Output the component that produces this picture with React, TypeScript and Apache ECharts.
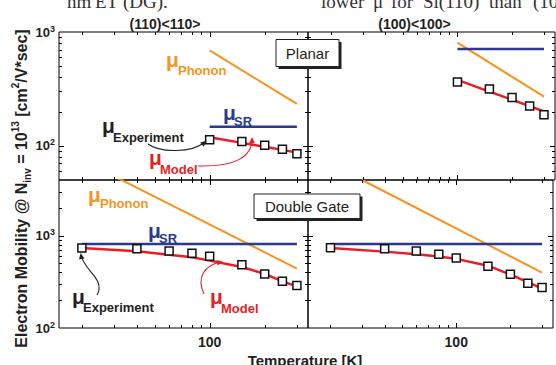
import { useEffect, useRef } from "react";
import * as echarts from "echarts";

const FONT = "'Liberation Sans', Arial, Helvetica, sans-serif";
const SERIF = "'Liberation Serif', 'Times New Roman', serif";
const ORANGE = "#F7931E";
const BLUE = "#2B3990";
const RED = "#ED1C24";
const INK = "#231F20";

// ---------- data ----------
const tempsPlanar = [100, 150, 200, 250, 300];
const tempsDG = [20, 40, 60, 80, 100, 150, 200, 250, 300];
const phononTempsPlanar = [100, 300];
const phononTempsDG = [30, 300];
const srTempsPlanar = [100, 300];
const srTempsDG = [20, 300];

// (110)<110> planar
const expPlanar110 = [113, 109, 101, 93, 85];
const modelPlanar110 = [119, 106, 98, 92, 87];
const phononPlanar110 = [690, 233];
const srPlanar110 = [147, 147];

// (100)<100> planar
const expPlanar100 = [364, 316, 265, 224, 187];
const modelPlanar100 = [379, 299, 254, 223, 200];
const phononPlanar100 = [806, 270];
const srPlanar100 = [710, 710];

// (110)<110> double gate
const expDG110 = [736, 723, 683, 643, 597, 485, 385, 320, 288];
const modelDG110 = [736, 676, 622, 582, 536, 458, 385, 320, 282];
const phononDG110 = [4400, 440];
const srDG110 = [812, 812];

// (100)<100> double gate
const expDG100 = [741, 723, 683, 628, 574, 466, 381, 305, 274];
const modelDG100 = [736, 671, 628, 593, 560, 473, 378, 313, 267];
const phononDG100 = [4000, 398];
const srDG100 = [812, 812];

// axes
const xRange = [15, 345];
const yRangePlanar = [50, 1000];
const yRangeDG = [100, 4000];
const xMinorTicks = [20, 30, 40, 50, 60, 70, 80, 90, 200, 300];
const xMajorTicks = [100];
const yMinorPlanar = [60, 70, 80, 90, 200, 300, 400, 500, 600, 700, 800, 900];
const yMajorPlanar = [100];
const yMinorDG = [200, 300, 400, 500, 600, 700, 800, 900, 2000, 3000];
const yMajorDG = [1000];
const xTickLabels = [100];
const yTickLabels = [100, 1000];

// running text of the page, cut off at the top edge
const pageTextLeft = ["nm", "ET", "(DG)."];
const pageTextRight = ["lower", "μ", "for", "Si(110)", "than", "(100)"];

const zip = (xs: number[], ys: number[]) => xs.map((x, i) => [x, ys[i]]);
const near = (v: number, list: number[]) =>
  list.some((t) => Math.abs(Math.log10(v) - Math.log10(t)) < 1e-4);

type Panel = {
  yRange: number[];
  temps: number[];
  exp: number[];
  model: number[];
  phT: number[];
  ph: number[];
  srT: number[];
  sr: number[];
  yMinor: number[];
  yMajor: number[];
};

const panels: Panel[] = [
  { yRange: yRangePlanar, temps: tempsPlanar, exp: expPlanar110, model: modelPlanar110, phT: phononTempsPlanar, ph: phononPlanar110, srT: srTempsPlanar, sr: srPlanar110, yMinor: yMinorPlanar, yMajor: yMajorPlanar },
  { yRange: yRangePlanar, temps: tempsPlanar, exp: expPlanar100, model: modelPlanar100, phT: phononTempsPlanar, ph: phononPlanar100, srT: srTempsPlanar, sr: srPlanar100, yMinor: yMinorPlanar, yMajor: yMajorPlanar },
  { yRange: yRangeDG, temps: tempsDG, exp: expDG110, model: modelDG110, phT: phononTempsDG, ph: phononDG110, srT: srTempsDG, sr: srDG110, yMinor: yMinorDG, yMajor: yMajorDG },
  { yRange: yRangeDG, temps: tempsDG, exp: expDG100, model: modelDG100, phT: phononTempsDG, ph: phononDG100, srT: srTempsDG, sr: srDG100, yMinor: yMinorDG, yMajor: yMajorDG },
];

const gridBoxes = [
  { left: 59, top: 32, width: 249, height: 148 },
  { left: 308, top: 32, width: 247, height: 148 },
  { left: 59, top: 180, width: 249, height: 148 },
  { left: 308, top: 180, width: 247, height: 148 },
];

const renderTick = (params: any, api: any) => {
  const cs = params.coordSys;
  const isY = api.value(2) === 1;
  const len = api.value(3) === 1 ? 5 : 3;
  const p = api.coord([api.value(0), api.value(1)]);
  const st = { stroke: "#000", lineWidth: 1 };
  if (!isY) {
    const x = Math.round(p[0]) + 0.5;
    const y0 = cs.y;
    const y1 = cs.y + cs.height;
    return {
      type: "group",
      children: [
        { type: "line", shape: { x1: x, y1: y1, x2: x, y2: y1 - len }, style: st },
        { type: "line", shape: { x1: x, y1: y0, x2: x, y2: y0 + len }, style: st },
      ],
    };
  }
  const y = Math.round(p[1]) + 0.5;
  const x0 = cs.x;
  const x1 = cs.x + cs.width;
  return {
    type: "group",
    children: [
      { type: "line", shape: { x1: x0, y1: y, x2: x0 + len, y2: y }, style: st },
      { type: "line", shape: { x1: x1, y1: y, x2: x1 - len, y2: y }, style: st },
    ],
  };
};

function tickData(p: Panel) {
  const d: number[][] = [];
  xMinorTicks.forEach((v) => d.push([v, p.yRange[0], 0, 0]));
  xMajorTicks.forEach((v) => d.push([v, p.yRange[0], 0, 1]));
  p.yMinor.forEach((v) => d.push([xRange[0], v, 1, 0]));
  p.yMajor.forEach((v) => d.push([xRange[0], v, 1, 1]));
  return d;
}

// ---------- annotation helpers ----------
const txt = (
  text: string,
  x: number,
  baseline: number,
  size: number,
  color: string,
  opts: any = {}
) => ({
  type: "text",
  x,
  y: baseline - 0.35 * size,
  z: 100,
  style: {
    text,
    fill: color,
    font: `${opts.weight ?? "bold"} ${size}px ${opts.family ?? FONT}`,
    align: opts.align ?? "left",
    textAlign: opts.align ?? "left",
    verticalAlign: "middle",
    textVerticalAlign: "middle",
  },
});

const muLabel = (
  mx: number,
  mBase: number,
  sub: string,
  sx: number,
  sBase: number,
  color: string
) => [txt("μ", mx, mBase, 21, color), txt(sub, sx, sBase, 13, color)];

const arrow = (
  p0: number[],
  c1: number[],
  c2: number[],
  p3: number[],
  color: string
) => {
  const dx = p3[0] - c2[0];
  const dy = p3[1] - c2[1];
  const d = Math.hypot(dx, dy);
  const ux = dx / d;
  const uy = dy / d;
  const len = 6;
  const half = 2.8;
  const tip = [p3[0] + ux * 2, p3[1] + uy * 2];
  const bx = tip[0] - ux * len;
  const by = tip[1] - uy * len;
  return [
    {
      type: "bezierCurve",
      z: 100,
      shape: { x1: p0[0], y1: p0[1], cpx1: c1[0], cpy1: c1[1], cpx2: c2[0], cpy2: c2[1], x2: p3[0], y2: p3[1] },
      style: { stroke: color, lineWidth: 1.1, fill: "none" },
    },
    {
      type: "polygon",
      z: 100,
      shape: { points: [tip, [bx - uy * half, by + ux * half], [bx + uy * half, by - ux * half]] },
      style: { fill: color },
    },
  ];
};

const box = (x: number, y: number, w: number, h: number, label: string) => [
  { type: "rect", z: 100, shape: { x: x + 2.5, y: y + 2.5, width: w, height: h }, style: { fill: "#222" } },
  { type: "rect", z: 101, shape: { x, y, width: w, height: h }, style: { fill: "#fff", stroke: "#222", lineWidth: 1 } },
  {
    type: "text",
    z: 102,
    x: x + w / 2,
    y: y + h / 2,
    style: {
      text: label,
      fill: INK,
      font: `normal 15px ${FONT}`,
      align: "center",
      textAlign: "center",
      verticalAlign: "middle",
      textVerticalAlign: "middle",
    },
  },
];

function buildOption() {
  const grid = gridBoxes.map((g) => ({
    ...g,
    show: true,
    borderColor: "#000",
    borderWidth: 1,
    backgroundColor: "transparent",
  }));

  const xAxis = gridBoxes.map((_, i) => ({
    type: "log",
    logBase: 10,
    gridIndex: i,
    min: xRange[0],
    max: xRange[1],
    axisLine: { show: false },
    axisTick: { show: false },
    splitLine: { show: false },
    minorTick: { show: false },
    axisLabel: {
      show: i >= 2,
      margin: 7,
      color: INK,
      fontSize: 14,
      fontWeight: "bold",
      fontFamily: FONT,
      formatter: (v: number) => (near(v, xTickLabels) ? String(Math.round(v)) : ""),
    },
  }));

  const yAxis = panels.map((p, i) => ({
    type: "log",
    logBase: 10,
    gridIndex: i,
    min: p.yRange[0],
    max: p.yRange[1],
    axisLine: { show: false },
    axisTick: { show: false },
    splitLine: { show: false },
    minorTick: { show: false },
    axisLabel: {
      show: i % 2 === 0,
      margin: 4,
      formatter: (v: number) =>
        near(v, yTickLabels) ? `{a|10}{b|${Math.round(Math.log10(v))}}` : "",
      rich: {
        a: { fontSize: 13, fontWeight: "bold", fontFamily: FONT, color: INK, lineHeight: 16 },
        b: { fontSize: 9, fontWeight: "bold", fontFamily: FONT, color: INK, lineHeight: 9, verticalAlign: "top" },
      },
    },
  }));

  const series: any[] = [];
  panels.forEach((p, i) => {
    series.push({
      type: "line",
      xAxisIndex: i,
      yAxisIndex: i,
      data: zip(p.phT, p.ph),
      showSymbol: false,
      lineStyle: { color: ORANGE, width: 2 },
      clip: true,
      z: 2,
    });
    series.push({
      type: "line",
      xAxisIndex: i,
      yAxisIndex: i,
      data: zip(p.srT, p.sr),
      showSymbol: false,
      lineStyle: { color: BLUE, width: 2.5 },
      z: 3,
    });
    series.push({
      type: "line",
      xAxisIndex: i,
      yAxisIndex: i,
      data: zip(p.temps, p.model),
      showSymbol: false,
      lineStyle: { color: RED, width: 2.5 },
      z: 4,
    });
    series.push({
      type: "scatter",
      xAxisIndex: i,
      yAxisIndex: i,
      data: zip(p.temps, p.exp),
      symbol: "rect",
      symbolSize: 8,
      itemStyle: { color: "#fff", borderColor: "#111", borderWidth: 1.5, opacity: 1 },
      z: 5,
    });
    series.push({
      type: "custom",
      xAxisIndex: i,
      yAxisIndex: i,
      dimensions: ["x", "y", "isY", "major"],
      encode: { x: 0, y: 1 },
      data: tickData(p),
      renderItem: renderTick,
      silent: true,
      z: 6,
    });
  });

  const leftWordX = [67, 95, 123];
  const rightWordX = [321, 373, 391, 423, 489, 533];
  const pageText = [
    ...pageTextLeft.map((w, i) => txt(w, leftWordX[i], 8, 19, "#333", { weight: "normal", family: SERIF })),
    ...pageTextRight.map((w, i) => txt(w, rightWordX[i], 8, 19, "#333", { weight: "normal", family: SERIF })),
  ];

  const graphic: any[] = [
    ...pageText,
    // panel titles
    txt("(110)<110>", 165, 28.5, 14, INK, { align: "center" }),
    txt("(100)<100>", 414.5, 28.5, 14, INK, { align: "center" }),
    // x axis title
    txt("Temperature [K]", 305, 366, 15, INK, { align: "center" }),
    // y axis title
    {
      type: "text",
      x: 21.5,
      y: 188.5,
      rotation: Math.PI / 2,
      z: 100,
      style: {
        text: "{t|Electron Mobility @ N}{sub|inv}{t| = 10}{sup|13}{t| [cm}{sup|2}{t|/V*sec]}",
        align: "center",
        textAlign: "center",
        verticalAlign: "middle",
        textVerticalAlign: "middle",
        rich: {
          t: { fontSize: 16, fontWeight: "bold", fontFamily: FONT, fill: INK, lineHeight: 22 },
          sub: { fontSize: 10, fontWeight: "bold", fontFamily: FONT, fill: INK, lineHeight: 10, verticalAlign: "bottom" },
          sup: { fontSize: 10, fontWeight: "bold", fontFamily: FONT, fill: INK, lineHeight: 10, verticalAlign: "top" },
        },
      },
    },
    ...box(276, 39.5, 63, 27, "Planar"),
    ...box(254, 194, 106, 24.5, "Double Gate"),
    // top-left annotations
    ...muLabel(166, 67, "Phonon", 178, 75.5, ORANGE),
    ...muLabel(223, 119.5, "SR", 234, 126, BLUE),
    ...muLabel(102, 133, "Experiment", 113, 142, INK),
    ...muLabel(149, 165, "Model", 160, 174, RED),
    ...arrow([148, 144], [160, 153], [192, 153], [205, 142], INK),
    ...arrow([198, 166], [235, 167], [252, 157], [252, 139], RED),
    // bottom-left annotations
    ...muLabel(88, 202, "Phonon", 100, 208, ORANGE),
    ...muLabel(148, 237.5, "SR", 159, 243.5, BLUE),
    ...muLabel(72, 303.5, "Experiment", 83, 312, INK),
    ...muLabel(210, 303.5, "Model", 221, 313, RED),
    ...arrow([97, 295], [106, 279], [84, 271], [81, 255], INK),
    ...arrow([204, 294], [196, 277], [205, 265], [221, 262], RED),
  ];

  return {
    animation: false,
    backgroundColor: "#fff",
    grid,
    xAxis,
    yAxis,
    series,
    graphic: { elements: graphic },
  };
}

export default function App() {
  const ref = useRef<HTMLDivElement>(null);
  useEffect(() => {
    if (!ref.current) return;
    const chart = echarts.init(ref.current, null, { renderer: "svg" });
    chart.setOption(buildOption() as any);
    return () => chart.dispose();
  }, []);
  return (
    <div
      ref={ref}
      style={{ position: "absolute", left: 0, top: 0, width: 556, height: 365 }}
    />
  );
}
